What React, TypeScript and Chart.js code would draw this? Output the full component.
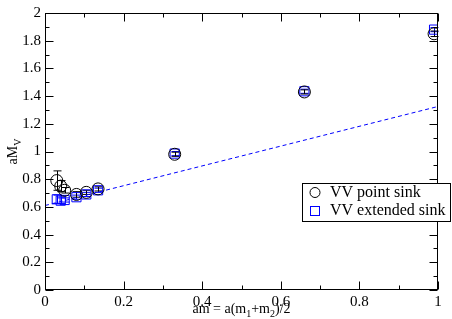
import React, { useEffect, useRef } from "react";
import { Chart, registerables } from "chart.js";

Chart.register(...registerables);

const amValues = [0.03, 0.04, 0.05, 0.08, 0.105, 0.135, 0.33, 0.66, 0.99];
const pointSinkY = [0.79, 0.75, 0.72, 0.69, 0.705, 0.73, 0.98, 1.43, 1.85];
const pointSinkErr = [0.07, 0.04, 0.02, 0.02, 0.015, 0.015, 0.015, 0.015, 0.02];
const extSinkY = [0.655, 0.645, 0.65, 0.67, 0.69, 0.72, 0.985, 1.435, 1.88];
const extSinkErr = [0.03, 0.02, 0.015, 0.015, 0.015, 0.015, 0.015, 0.015, 0.015];
const fitX = [0, 1];
const fitY = [0.61, 1.325];
const seriesLabels = ["VV point sink", "VV extended sink"];

const SERIF = "'Liberation Serif', 'Times New Roman', serif";
const BLUE = "#0000ff";

Chart.defaults.font.family = SERIF;

const fmt = (v: any) => String(parseFloat(Number(v).toFixed(2)));

const overlay = {
  id: "overlay",
  beforeDatasetsDraw(chart: any) {
    const ctx = chart.ctx;
    const xs = chart.scales.x;
    const ys = chart.scales.y;
    const drawErr = (xv: number[], yv: number[], ev: number[], color: string) => {
      ctx.save();
      ctx.strokeStyle = color;
      ctx.lineWidth = 1;
      for (let i = 0; i < xv.length; i++) {
        const px = Math.round(xs.getPixelForValue(xv[i])) + 0.5;
        const y1 = ys.getPixelForValue(yv[i] + ev[i]);
        const y2 = ys.getPixelForValue(yv[i] - ev[i]);
        ctx.beginPath();
        ctx.moveTo(px, y1);
        ctx.lineTo(px, y2);
        ctx.moveTo(px - 4, y1);
        ctx.lineTo(px + 4, y1);
        ctx.moveTo(px - 4, y2);
        ctx.lineTo(px + 4, y2);
        ctx.stroke();
      }
      ctx.restore();
    };
    drawErr(amValues, extSinkY, extSinkErr, BLUE);
    drawErr(amValues, pointSinkY, pointSinkErr, "#000");
  },
  afterDraw(chart: any) {
    const ctx = chart.ctx;
    const a = chart.chartArea;
    const xs = chart.scales.x;
    const ys = chart.scales.y;
    ctx.save();
    ctx.strokeStyle = "#000";
    ctx.lineWidth = 1;
    const L = Math.round(a.left) + 0.5;
    const R = Math.round(a.right) - 0.5;
    const T = Math.round(a.top) + 0.5;
    const B = Math.round(a.bottom) - 0.5;
    ctx.strokeRect(L, T, R - L, B - T);
    ctx.beginPath();
    for (let k = 0; k <= 10; k++) {
      const v = k / 10;
      const len = k % 2 === 0 ? 8 : 4;
      const px = Math.round(xs.getPixelForValue(v)) + 0.5;
      ctx.moveTo(px, B);
      ctx.lineTo(px, B - len);
      ctx.moveTo(px, T);
      ctx.lineTo(px, T + len);
    }
    for (let k = 0; k <= 20; k++) {
      const v = k / 10;
      const len = k % 2 === 0 ? 8 : 4;
      const py = Math.round(ys.getPixelForValue(v)) + 0.5;
      ctx.moveTo(L, py);
      ctx.lineTo(L + len, py);
      ctx.moveTo(R, py);
      ctx.lineTo(R - len, py);
    }
    ctx.stroke();

    ctx.fillStyle = "#000";
    ctx.textBaseline = "alphabetic";
    const drawParts = (parts: [string, boolean][], x: number, y: number, big: number, small: number) => {
      let w = 0;
      for (const [t, sub] of parts) {
        ctx.font = `${sub ? small : big}px ${SERIF}`;
        w += ctx.measureText(t).width;
      }
      let cx = x - w / 2;
      ctx.textAlign = "left";
      for (const [t, sub] of parts) {
        ctx.font = `${sub ? small : big}px ${SERIF}`;
        ctx.fillText(t, cx, sub ? y + 4 : y);
        cx += ctx.measureText(t).width;
      }
    };
    const midX = (a.left + a.right) / 2;
    drawParts(
      [["am = a(m", false], ["1", true], ["+m", false], ["2", true], [")/2", false]],
      midX,
      313,
      14,
      10
    );
    ctx.save();
    ctx.translate(17, (a.top + a.bottom) / 2);
    ctx.rotate(-Math.PI / 2);
    drawParts([["aM", false], ["V", true]], 0, 0, 14, 10);
    ctx.restore();

    const lx = 302, ly = 183, lw = 148, lh = 38;
    ctx.fillStyle = "#fff";
    ctx.fillRect(lx, ly, lw, lh);
    ctx.strokeStyle = "#000";
    ctx.strokeRect(lx + 0.5, ly + 0.5, lw, lh);
    ctx.lineWidth = 1;
    ctx.beginPath();
    ctx.arc(315, 192.5, 5, 0, Math.PI * 2);
    ctx.stroke();
    ctx.strokeStyle = BLUE;
    ctx.strokeRect(310.5, 206.5, 9, 9);
    ctx.fillStyle = "#000";
    ctx.font = `16px ${SERIF}`;
    ctx.textAlign = "left";
    ctx.textBaseline = "middle";
    ctx.fillText(seriesLabels[0], 330, 193);
    ctx.fillText(seriesLabels[1], 330, 211);
    ctx.restore();
  },
};

export default function App() {
  const ref = useRef<HTMLCanvasElement>(null);
  useEffect(() => {
    document.body.style.margin = "0";
    const chart = new Chart(ref.current!, {
      type: "scatter",
      data: {
        datasets: [
          {
            label: seriesLabels[0],
            data: amValues.map((x, i) => ({ x, y: pointSinkY[i] })),
            pointStyle: "circle",
            pointRadius: 6,
            borderColor: "#000",
            backgroundColor: "rgba(0,0,0,0)",
            borderWidth: 1,
            order: 1,
          },
          {
            label: seriesLabels[1],
            data: amValues.map((x, i) => ({ x, y: extSinkY[i] })),
            pointStyle: "rect",
            pointRadius: 6.5,
            borderColor: BLUE,
            backgroundColor: "rgba(0,0,0,0)",
            borderWidth: 1,
            order: 2,
          },
          {
            label: "fit",
            data: fitX.map((x, i) => ({ x, y: fitY[i] })),
            showLine: true,
            pointRadius: 0,
            borderColor: BLUE,
            borderWidth: 1,
            borderDash: [4, 3],
            order: 3,
          } as any,
        ],
      },
      options: {
        responsive: false,
        animation: false,
        layout: { padding: { top: 6, right: 14, left: 0, bottom: 0 } },
        plugins: { legend: { display: false }, tooltip: { enabled: false } },
        scales: {
          x: {
            type: "linear",
            min: 0,
            max: 1,
            grid: { display: false, drawTicks: false },
            border: { display: false },
            ticks: {
              stepSize: 0.2,
              padding: 3,
              color: "#000",
              font: { family: SERIF, size: 15 },
              maxRotation: 0,
              callback: fmt,
            },
            afterFit: (s: any) => {
              s.height = 29;
            },
          },
          y: {
            type: "linear",
            min: 0,
            max: 2,
            grid: { display: false, drawTicks: false },
            border: { display: false },
            ticks: {
              stepSize: 0.2,
              padding: 4,
              color: "#000",
              font: { family: SERIF, size: 15 },
              callback: fmt,
            },
            afterFit: (s: any) => {
              s.width = 45;
            },
          },
        },
      },
      plugins: [overlay],
    });
    return () => chart.destroy();
  }, []);
  return (
    <div style={{ position: "absolute", left: 0, top: 0 }}>
      <canvas ref={ref} width={452} height={319} />
    </div>
  );
}
